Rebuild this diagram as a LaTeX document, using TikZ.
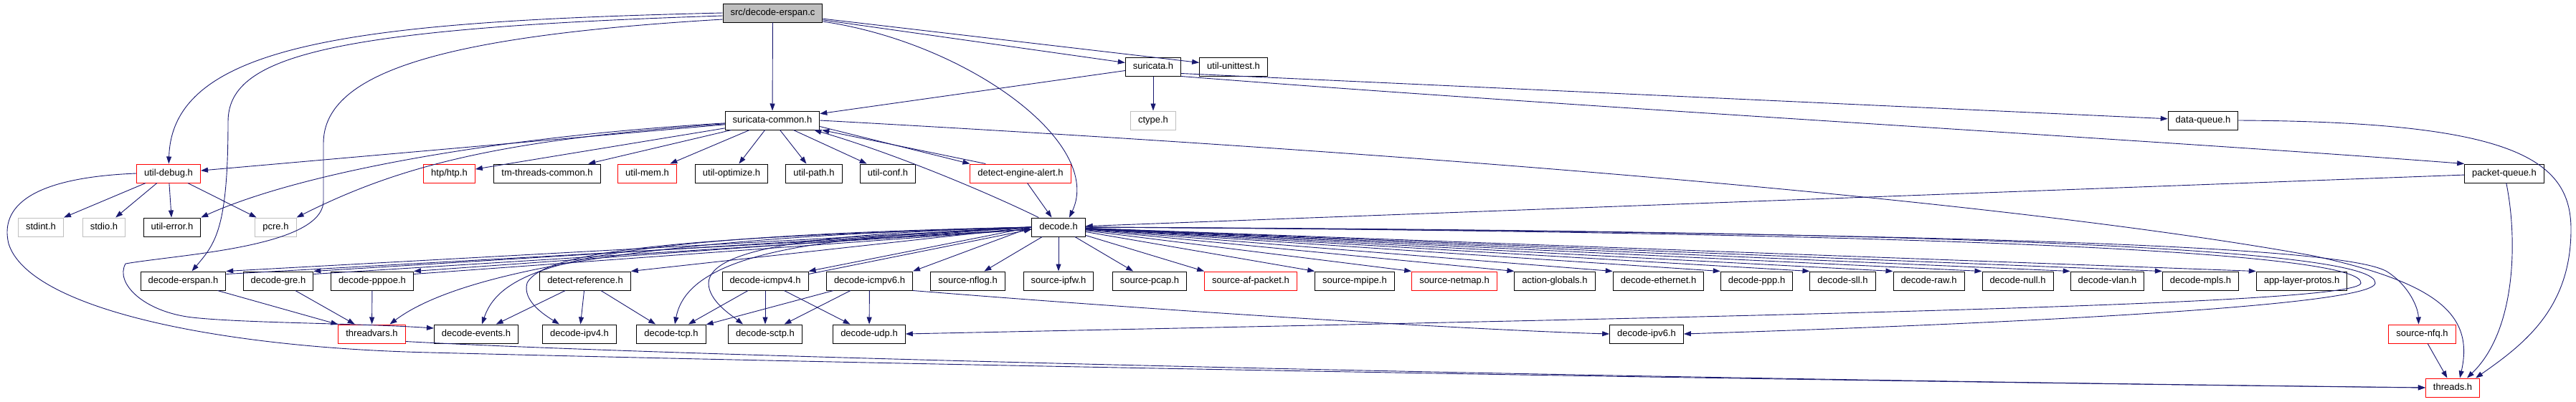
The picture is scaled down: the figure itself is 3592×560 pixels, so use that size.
\documentclass[tikz,border=0pt]{standalone}
\usepackage{fontspec}
\setmainfont{Liberation Sans}
\usetikzlibrary{arrows.meta}
\definecolor{dxedge}{HTML}{191970}
\definecolor{dxred}{HTML}{FF0000}
\definecolor{dxgray}{HTML}{BFBFBF}

\begin{document}
\begin{tikzpicture}[
    x=1pt, y=-1pt,
    >={Triangle[length=10pt, width=7pt]},
    font=\fontsize{13}{15}\selectfont,
    box/.style={draw=black, line width=1pt, minimum height=26pt, inner xsep=10.5pt,
      inner ysep=0pt, text height=9.5pt, text depth=3pt},
    trunc/.style={box, draw=dxred},
    sys/.style={box, draw=dxgray},
    root/.style={box, fill=dxgray},
    dep/.style={draw=dxedge, line width=0.9pt, ->},
  ]
  \useasboundingbox (0,0) rectangle (3592,560);

  % ----- top: the file itself and what it pulls in first -----
  \node[root] (src) at (1077.5,18) {src/decode-erspan.c};
  \node[box] (suricata) at (1608,93) {suricata.h};
  \node[box] (unittest) at (1720,93) {util-unittest.h};
  \node[box] (common) at (1077,168) {suricata-common.h};
  \node[sys] (ctype) at (1608,168) {ctype.h};
  \node[box] (dataq) at (3072,168) {data-queue.h};

  % ----- row under suricata-common.h -----
  \node[trunc] (debug) at (235,242) {util-debug.h};
  \node[trunc] (htp) at (626.5,242) {htp/htp.h};
  \node[box] (tmthreads) at (763,242) {tm-threads-common.h};
  \node[trunc] (mem) at (902.5,242) {util-mem.h};
  \node[box] (optimize) at (1020,242) {util-optimize.h};
  \node[box] (path) at (1135,242) {util-path.h};
  \node[box] (conf) at (1238,242) {util-conf.h};
  \node[trunc] (alert) at (1423,242) {detect-engine-alert.h};
  \node[box] (packetq) at (3492,242) {packet-queue.h};

  \node[sys] (stdint) at (57,317) {stdint.h};
  \node[sys] (stdio) at (145,317) {stdio.h};
  \node[box] (error) at (240,317) {util-error.h};
  \node[sys] (pcre) at (384.5,317) {pcre.h};
  \node[box] (decode) at (1476,317) {decode.h};

  % ----- everything decode.h includes -----
  \node[box] (erspan) at (255.5,392) {decode-erspan.h};
  \node[box] (gre) at (388,392) {decode-gre.h};
  \node[box] (pppoe) at (519,392) {decode-pppoe.h};
  \node[box] (detref) at (816,392) {detect-reference.h};
  \node[box] (icmpv4) at (1067,392) {decode-icmpv4.h};
  \node[box] (icmpv6) at (1212.5,392) {decode-icmpv6.h};
  \node[box] (nflog) at (1349.6,392) {source-nflog.h};
  \node[box] (ipfw) at (1476,392) {source-ipfw.h};
  \node[box] (pcap) at (1603,392) {source-pcap.h};
  \node[trunc] (afpacket) at (1744,392) {source-af-packet.h};
  \node[box] (mpipe) at (1889,392) {source-mpipe.h};
  \node[trunc] (netmap) at (2028,392) {source-netmap.h};
  \node[box] (actglob) at (2168,392) {action-globals.h};
  \node[box] (ethernet) at (2312.5,392) {decode-ethernet.h};
  \node[box] (ppp) at (2449.5,392) {decode-ppp.h};
  \node[box] (sll) at (2569.5,392) {decode-sll.h};
  \node[box] (raw) at (2689.5,392) {decode-raw.h};
  \node[box] (null) at (2813.5,392) {decode-null.h};
  \node[box] (vlan) at (2938.5,392) {decode-vlan.h};
  \node[box] (mpls) at (3068.5,392) {decode-mpls.h};
  \node[box] (applayer) at (3209.5,392) {app-layer-protos.h};

  \node[trunc] (threadvars) at (518.5,466) {threadvars.h};
  \node[box] (events) at (664,466) {decode-events.h};
  \node[box] (ipv4) at (808,466) {decode-ipv4.h};
  \node[box] (tcp) at (936,466) {decode-tcp.h};
  \node[box] (sctp) at (1067,466) {decode-sctp.h};
  \node[box] (udp) at (1212,466) {decode-udp.h};
  \node[box] (ipv6) at (2296,466) {decode-ipv6.h};
  \node[trunc] (nfq) at (3377.5,466) {source-nfq.h};
  \node[trunc] (threads) at (3420,541) {threads.h};

  % ----- from src/decode-erspan.c -----
  \draw[dep] (src) -- (common);
  \draw[dep] (src) -- (suricata);
  \draw[dep] (src) -- (unittest);
  \draw[dep] (src.west) .. controls (500,30) and (240,60) .. (debug);
  \draw[dep] ([yshift=-4pt]src.west) .. controls (450,40) and (318,80) .. (318,170)
    .. controls (318,320) and (300,340) .. ([xshift=12pt]erspan.north);
  \draw[dep] ([yshift=-9pt]src.west) .. controls (620,50) and (451,100) .. (451,200) -- (451,280)
    .. controls (451,345) and (250,355) .. (175,368)
    .. controls (160,395) and (200,435) .. (268,443)
    .. controls (340,451) and (500,451) .. ([yshift=8pt]events.west);
  \draw[dep] ([yshift=-12pt]src.east) .. controls (1350,60) and (1540,200) .. ([xshift=15pt]decode.north);

  % ----- suricata.h -----
  \draw[dep] (suricata) -- (common);
  \draw[dep] (suricata) -- (ctype);
  \draw[dep] ([yshift=4pt]suricata.south east) -- (dataq);
  \draw[dep] (suricata.south east) .. controls (2200,150) and (3000,195) .. (packetq.north west);

  % ----- suricata-common.h -----
  \draw[dep] (common) -- (debug);
  \draw[dep] (common) .. controls (700,190) and (420,240) .. (error.north east);
  \draw[dep] (common) .. controls (700,195) and (560,230) .. (pcre.north east);
  \draw[dep] (common) -- (htp);
  \draw[dep] (common) -- (tmthreads);
  \draw[dep] (common) -- (mem);
  \draw[dep] (common) -- (optimize);
  \draw[dep] (common) -- (path);
  \draw[dep] (common) -- (conf);
  \draw[dep] ([yshift=5pt]common.south east) -- (alert.north west);
  \draw[dep] (common.east) .. controls (2000,215) and (2800,280) .. (3226,357)
    .. controls (3400,395) and (3450,440) .. ([xshift=10pt]threads.north);
  \draw[dep] ([xshift=22pt]alert.north west) -- ([xshift=3pt]common.south east);
  \draw[dep] (alert) -- (decode);

  % ----- util-debug.h -----
  \draw[dep] (debug) -- (stdint);
  \draw[dep] (debug) -- (stdio);
  \draw[dep] (debug) -- (error);
  \draw[dep] (debug) -- (pcre);
  \draw[dep] (debug.west) .. controls (40,248) and (0,290) .. (12,340)
    .. controls (40,430) and (300,485) .. (600,492)
    .. controls (1500,515) and (2800,535) .. (threads.west);

  % ----- decode.h, left half -----
  \draw[dep] ([xshift=10pt]decode.north west) .. controls (1380,270) and (1250,215) .. ([xshift=-8pt]common.south east);
  \draw[dep] (decode.west) -- (erspan.north east);
  \draw[dep] ([yshift=-4pt]erspan.north east) -- ([yshift=-3pt]decode.west);
  \draw[dep] (decode.west) -- (gre.north east);
  \draw[dep] ([yshift=-4pt]gre.north east) -- ([yshift=-3pt]decode.west);
  \draw[dep] (decode.west) -- (pppoe.north east);
  \draw[dep] ([yshift=-4pt]pppoe.north east) -- ([yshift=-3pt]decode.west);
  \draw[dep] (decode.west) -- (detref.north east);
  \draw[dep] (decode.west) -- (icmpv4.north east);
  \draw[dep] ([yshift=-4pt]icmpv4.north east) -- ([yshift=-3pt]decode.west);
  \draw[dep] (decode.west) -- (icmpv6.north east);
  \draw[dep] (decode.west) .. controls (900,330) and (640,380) .. ([xshift=25pt]threadvars.north);
  \draw[dep] (decode.west) .. controls (820,330) and (700,370) .. ([xshift=8pt]events.north);
  \draw[dep] (decode.west) .. controls (1000,330) and (760,345) .. (735,395)
    .. controls (728,420) and (760,440) .. ([xshift=-28pt]ipv4.north);
  \draw[dep] (decode.west) .. controls (1150,330) and (960,350) .. ([xshift=5pt]tcp.north);
  \draw[dep] (decode.west) .. controls (1150,325) and (990,345) .. (988,395)
    .. controls (988,420) and (1020,440) .. ([xshift=-31pt]sctp.north);

  % ----- decode.h, right half -----
  \draw[dep] (decode) -- (nflog);
  \draw[dep] (decode) -- (ipfw);
  \draw[dep] (decode) -- (pcap);
  \foreach \n in {afpacket, mpipe, netmap, actglob, ethernet, ppp, sll, raw, null, vlan, mpls, applayer}
    \draw[dep] (decode) -- (\n.north west);
  \draw[dep] (decode.east) .. controls (2800,325) and (3295,355) .. (3292,395)
    .. controls (3290,425) and (2500,440) .. (udp.east);
  \draw[dep] (decode.east) .. controls (2800,322) and (3315,350) .. (3312,395)
    .. controls (3310,430) and (2700,455) .. (ipv6.east);
  \draw[dep] (decode.east) .. controls (2800,325) and (3280,345) .. (3330,380)
    .. controls (3360,400) and (3372,430) .. ([xshift=-5pt]nfq.north);
  \draw[dep] (packetq) -- (decode);

  % ----- lower rows -----
  \draw[dep] (erspan) -- (threadvars);
  \draw[dep] (gre) -- (threadvars);
  \draw[dep] (pppoe) -- (threadvars);
  \draw[dep] (detref) -- (events);
  \draw[dep] (detref) -- (ipv4);
  \draw[dep] (detref) -- (tcp);
  \draw[dep] (icmpv4) -- (tcp);
  \draw[dep] (icmpv4) -- (sctp);
  \draw[dep] (icmpv4) -- (udp);
  \draw[dep] (icmpv6) -- (tcp);
  \draw[dep] (icmpv6) -- (sctp);
  \draw[dep] (icmpv6) -- (udp);
  \draw[dep] (icmpv6.south east) .. controls (1700,440) and (2100,462) .. (ipv6.west);

  % ----- into threads.h -----
  \draw[dep] ([yshift=3pt]threadvars.south east) .. controls (900,495) and (2000,525) .. (threads.west);
  \draw[dep] (dataq.east) .. controls (3500,170) and (3585,220) .. (3585,320)
    .. controls (3585,430) and (3520,480) .. ([xshift=-6pt]threads.north east);
  \draw[dep] (packetq) .. controls (3510,330) and (3510,460) .. ([xshift=20pt]threads.north);
  \draw[dep] (nfq) -- (threads);

\end{tikzpicture}
\end{document}
